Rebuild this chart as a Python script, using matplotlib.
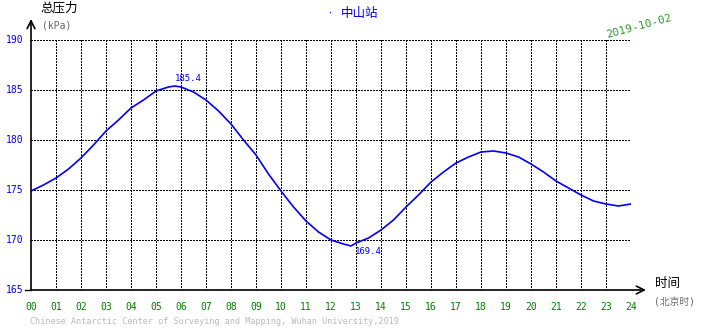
import matplotlib.pyplot as plt
import numpy as np

plt.rcParams['font.family'] = ['DejaVu Sans Mono', 'Noto Sans CJK SC']

# half-hourly total pressure readings (kPa), Beijing time
hours = [0, 0.5, 1, 1.5, 2, 2.5, 3, 3.5, 4, 4.5, 5, 5.5, 5.75, 6, 6.5, 7, 7.5, 8,
         8.5, 9, 9.5, 10, 10.5, 11, 11.5, 12, 12.5, 12.8, 13, 13.5, 14, 14.5, 15,
         15.5, 16, 16.5, 17, 17.5, 18, 18.5, 19, 19.5, 20, 20.5, 21, 21.5, 22,
         22.5, 23, 23.5, 24]
pressure = [174.9, 175.5, 176.2, 177.1, 178.2, 179.5, 180.9, 182.0, 183.2, 184.0,
            184.9, 185.3, 185.4, 185.3, 184.8, 184.0, 182.9, 181.6, 180.0, 178.5,
            176.6, 174.9, 173.3, 171.9, 170.8, 170.0, 169.6, 169.4, 169.7, 170.2,
            171.0, 172.0, 173.3, 174.5, 175.8, 176.8, 177.7, 178.3, 178.8, 178.9,
            178.7, 178.3, 177.6, 176.8, 175.9, 175.2, 174.5, 173.9, 173.6, 173.4,
            173.6]

x_labels = ['%02d' % h for h in range(25)]
y_ticks = [165, 170, 175, 180, 185, 190]

peak_val = 185.4
low_val = 169.4

fig = plt.figure(figsize=(7.1, 3.28), dpi=100)
ax = fig.add_axes([31 / 710, 1 - 290 / 328, 600 / 710, 250 / 328])
ax.set_xlim(0, 24)
ax.set_ylim(165, 190)
for s in ax.spines.values():
    s.set_visible(False)

# dotted grid, drawn without antialiasing so the dots stay crisp
dots = (0, (1.0, 1.4))
for h in range(1, 25):
    ax.plot([h, h], [165, 190], color='black', lw=0.8, ls=dots, zorder=1,
            antialiased=False)
for v in y_ticks[1:]:
    ax.plot([0, 24], [v, v], color='black', lw=0.8, ls=dots, zorder=1,
            antialiased=False)

ax.plot(hours, pressure, color='#0000ff', lw=1.2, zorder=3)

# axes with open arrowheads
ax.annotate('', xy=(0, 192.1), xytext=(0, 165), annotation_clip=False,
            arrowprops=dict(arrowstyle='->', color='black', lw=1.2,
                            shrinkA=0, shrinkB=0, mutation_scale=14))
ax.annotate('', xy=(24.6, 165), xytext=(0, 165), annotation_clip=False,
            arrowprops=dict(arrowstyle='->', color='black', lw=1.2,
                            shrinkA=0, shrinkB=0, mutation_scale=14))
ax.plot([-0.25, 0], [165, 165], color='black', lw=1, clip_on=False)

ax.set_xticks([])
ax.set_yticks([])
for i, lab in enumerate(x_labels):
    ax.text(i, 163.8, lab, color='#008000', fontsize=7, ha='center', va='top')
for v in y_ticks:
    ax.text(-0.3, v, str(v), color='#0000ff', fontsize=7, ha='right', va='center')

# extreme value labels
i_hi = pressure.index(peak_val)
i_lo = pressure.index(low_val)
ax.text(hours[i_hi], peak_val + 0.3, '%.1f' % peak_val, color='#0000ff',
        fontsize=6.5, ha='left', va='bottom')
ax.text(hours[i_lo] + 0.15, low_val - 0.1, '%.1f' % low_val, color='#0000ff',
        fontsize=6.5, ha='left', va='top')

# titles and captions
fig.text(40 / 710, 1 - 8 / 328, '总压力', fontsize=9, family='Noto Sans CJK SC',
         ha='left', va='center', style='italic')
fig.text(42 / 710, 1 - 25 / 328, '(kPa)', fontsize=7, color='#666666',
         ha='left', va='center')
fig.text(330 / 710, 1 - 14 / 328, '·', fontsize=6, color='#0000ff', ha='center', va='center')
fig.text(341 / 710, 1 - 13 / 328, '中山站', fontsize=9, color='#0000ff',
         family='Noto Sans CJK SC', ha='left', va='center')
fig.text(639 / 710, 1 - 26 / 328, '2019-10-02', fontsize=8, color='#339933',
         rotation=15, ha='center', va='center')
fig.text(655 / 710, 1 - 284 / 328, '时间', fontsize=9, family='Noto Sans CJK SC',
         ha='left', va='center')
fig.text(654 / 710, 1 - 302 / 328, '(北京时)', fontsize=7, color='#666666',
         family=['DejaVu Sans Mono', 'Noto Sans CJK SC'], ha='left', va='center')
fig.text(30 / 710, 1 - 321 / 328,
         'Chinese Antarctic Center of Surveying and Mapping, Wuhan University,2019',
         fontsize=6.1, color='#bbbbbb', ha='left', va='center')

fig.savefig('out.png', dpi=100)
